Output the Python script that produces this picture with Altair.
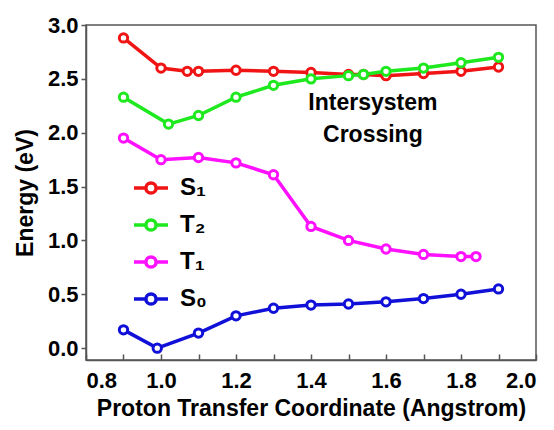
import altair as alt
import pandas as pd

# Series data (x in Angstrom, y in eV)
s1_x = [0.9, 1.0, 1.07, 1.1, 1.2, 1.3, 1.4, 1.5, 1.54, 1.6, 1.7, 1.8, 1.9]
s1_y = [2.88, 2.60, 2.57, 2.57, 2.58, 2.57, 2.56, 2.54, 2.54, 2.53, 2.55, 2.57, 2.61]
t2_x = [0.9, 1.02, 1.1, 1.2, 1.3, 1.4, 1.5, 1.54, 1.6, 1.7, 1.8, 1.9]
t2_y = [2.33, 2.08, 2.16, 2.33, 2.44, 2.50, 2.53, 2.54, 2.57, 2.60, 2.65, 2.70]
t1_x = [0.9, 1.0, 1.1, 1.2, 1.3, 1.4, 1.5, 1.6, 1.7, 1.8, 1.84]
t1_y = [1.95, 1.75, 1.77, 1.72, 1.61, 1.13, 1.00, 0.92, 0.87, 0.85, 0.85]
s0_x = [0.9, 0.99, 1.1, 1.2, 1.3, 1.4, 1.5, 1.6, 1.7, 1.8, 1.9]
s0_y = [0.17, 0.00, 0.14, 0.30, 0.37, 0.40, 0.41, 0.43, 0.46, 0.50, 0.55]

series_names = ["S\u2081", "T\u2082", "T\u2081", "S\u2080"]
series_colors = ["#f01414", "#1ee81e", "#ff10ff", "#1010d8"]

x_ticks = [0.8, 0.9, 1.0, 1.1, 1.2, 1.3, 1.4, 1.5, 1.6, 1.7, 1.8, 1.9, 2.0]
x_labels = [0.8, 1.0, 1.2, 1.4, 1.6, 1.8, 2.0]
y_ticks = [0.0, 0.5, 1.0, 1.5, 2.0, 2.5, 3.0]

note_text = ["Intersystem", "Crossing"]
note_x = [1.565, 1.565]
note_y = [2.28, 1.98]

rows = []
for name, xs, ys in zip(series_names, [s1_x, t2_x, t1_x, s0_x], [s1_y, t2_y, t1_y, s0_y]):
    for xv, yv in zip(xs, ys):
        rows.append({"series": name, "x": xv, "y": yv})
df = pd.DataFrame(rows)
notes = pd.DataFrame({"text": note_text, "x": note_x, "y": note_y})

FONT = "Liberation Sans"
W, H = 450, 335

xscale = alt.Scale(domain=[0.8, 2.0], nice=False, zero=False)
yscale = alt.Scale(domain=[-0.11, 3.0], nice=False, zero=False)

legend_symbol = "M-1,0L-0.32,0M0.32,0L1,0M-0.3,0A0.3,0.3,0,1,1,0.3,0A0.3,0.3,0,1,1,-0.3,0"

stroke_enc = alt.Stroke(
    "series:N",
    scale=alt.Scale(domain=series_names, range=series_colors),
    legend=alt.Legend(
        title=None,
        orient="none",
        legendX=46,
        legendY=144,
        symbolType=legend_symbol,
        symbolSize=1156,
        symbolStrokeWidth=3.5,
        symbolFillColor="white",
        labelFont=FONT,
        labelFontSize=24,
        labelFontWeight="bold",
        labelColor="black",
        labelOffset=10,
        rowPadding=5,
        labelLimit=200,
    ),
)

x_enc = alt.X(
    "x:Q",
    scale=xscale,
    axis=alt.Axis(
        values=x_labels,
        format=".1f",
        title="Proton Transfer Coordinate (Angstrom)",
        ticks=False,
        labelPadding=10,
        titlePadding=6,
    ),
)
y_axis = alt.Axis(
    values=y_ticks,
    format=".1f",
    title="Energy (eV)",
    tickSize=5,
    labelPadding=3,
    titlePadding=10,
)


def y_enc():
    return alt.Y("y:Q", scale=yscale, axis=y_axis)


def x_plain():
    return alt.X("x:Q", scale=xscale, axis=None)


base = alt.Chart(df)
lines = base.mark_line(strokeWidth=3.5).encode(
    x=x_enc, y=y_enc(), stroke=stroke_enc, detail="series:N"
)
points = base.mark_point(size=70, strokeWidth=3, fill="white", fillOpacity=1, opacity=1).encode(
    x=x_plain(), y=y_enc(), stroke=alt.Stroke("series:N")
)
# inward ticks along the bottom: a top-oriented axis shifted down onto the bottom edge
inner_ticks = base.mark_point(opacity=0).encode(
    x=alt.X(
        "x:Q",
        scale=xscale,
        axis=alt.Axis(
            orient="top",
            offset=-H,
            values=x_ticks,
            labels=False,
            domain=False,
            title=None,
            tickSize=6,
        ),
    ),
    y=y_enc(),
)
text = alt.Chart(notes).mark_text(
    font=FONT, fontSize=23, fontWeight="bold", color="black", align="center", baseline="middle"
).encode(x=x_plain(), y=y_enc(), text="text:N")

chart = (
    alt.layer(lines, points, inner_ticks, text)
    .resolve_axis(x="independent")
    .properties(
        width=W,
        height=H,
        autosize=alt.AutoSizeParams(type="none"),
        padding={"left": 78, "top": 17, "right": 10, "bottom": 62},
    )
    .configure_view(stroke="#555555", strokeWidth=1.5)
    .configure_axis(
        labelFont=FONT,
        labelFontSize=22,
        labelFontWeight="bold",
        labelColor="black",
        titleFont=FONT,
        titleFontSize=23,
        titleFontWeight="bold",
        titleColor="black",
        domainColor="#555555",
        domainWidth=1.5,
        tickColor="#555555",
        tickWidth=1.5,
        grid=False,
    )
)

chart.save("out.html", embed_options={"renderer": "svg", "actions": False})
